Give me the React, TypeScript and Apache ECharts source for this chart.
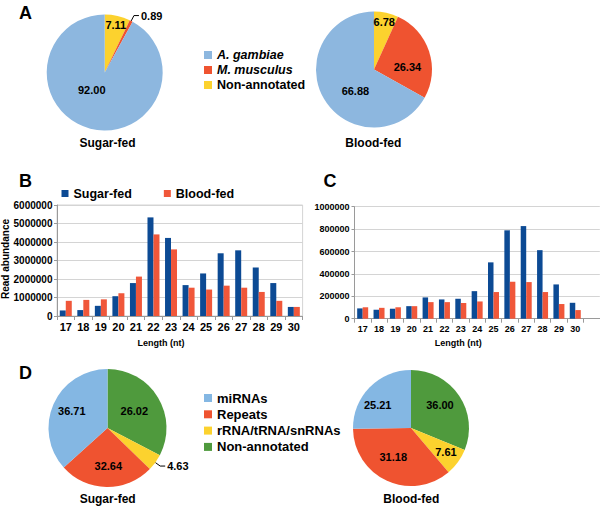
import React, { useEffect, useRef } from 'react';
import * as echarts from 'echarts';

const FONT = '"Liberation Sans", Arial, Helvetica, sans-serif';

// Panel A: species origin of reads (clockwise from 12 o'clock)
const speciesNames = ['Non-annotated', 'M. musculus', 'A. gambiae'];
const aSugarShares = [7.11, 0.89, 92.0];
const aBloodShares = [6.78, 26.34, 66.88];
const speciesLegend = ['A. gambiae', 'M. musculus', 'Non-annotated'];

// Panels B and C: read length distribution
const lengths = ['17', '18', '19', '20', '21', '22', '23', '24', '25', '26', '27', '28', '29', '30'];
const bSugar = [300000, 320000, 550000, 1070000, 1780000, 5330000, 4220000, 1670000, 2300000, 3390000, 3550000, 2620000, 1780000, 490000];
const bBlood = [820000, 870000, 900000, 1230000, 2130000, 4410000, 3600000, 1530000, 1430000, 1640000, 1530000, 1300000, 820000, 490000];
const cSugar = [92000, 80000, 89000, 112000, 190000, 172000, 178000, 246000, 503000, 789000, 827000, 612000, 306000, 142000];
const cBlood = [102000, 97000, 102000, 112000, 148000, 148000, 140000, 154000, 238000, 330000, 327000, 238000, 131000, 77000];

// Panel D: annotation classes (clockwise from 12 o'clock); slice sizes as drawn, printed labels as shown
const rnaNames = ['Non-annotated', 'rRNA/tRNA/snRNAs', 'Repeats', 'miRNAs'];
const dSugarShares = [32.64, 4.63, 26.02, 36.71];
const dSugarPrinted = ['26.02', '4.63', '32.64', '36.71'];
const dBloodShares = [31.18, 7.61, 36.0, 25.21];
const dBloodPrinted = ['36.00', '7.61', '31.18', '25.21'];
const rnaLegend = ['miRNAs', 'Repeats', 'rRNA/tRNA/snRNAs', 'Non-annotated'];

const speciesColors: Record<string, string> = {
  'A. gambiae': '#8DB7DF',
  'M. musculus': '#EF5330',
  'Non-annotated': '#FCD22E',
};
const rnaColors: Record<string, string> = {
  miRNAs: '#84B7E3',
  Repeats: '#EF5330',
  'rRNA/tRNA/snRNAs': '#FCD22E',
  'Non-annotated': '#4F9A3D',
};

type Shift = { dx?: number; dy?: number };

function pieSeries(
  center: number[],
  radius: number,
  names: string[],
  values: number[],
  printed: string[],
  colors: Record<string, string>,
  shifts: Shift[],
  outsideIdx: number
) {
  return {
    type: 'pie',
    center,
    radius,
    startAngle: 90,
    clockwise: true,
    avoidLabelOverlap: false,
    silent: true,
    itemStyle: { borderWidth: 0 },
    data: names.map((n, i) => {
      const item: any = { value: values[i], name: n, itemStyle: { color: colors[n] } };
      if (i === outsideIdx) {
        item.label = { position: 'outside', distanceToLabelLine: 2, alignTo: 'none' };
        item.labelLine = { show: true, length: 6, length2: 5, smooth: false, lineStyle: { color: '#000', width: 1 } };
      }
      return item;
    }),
    label: {
      show: true,
      position: 'inside',
      formatter: (p: any) => printed[p.dataIndex],
      color: '#000',
      fontSize: 11,
      fontWeight: 'bold',
      fontFamily: FONT,
    },
    labelLine: { show: false },
    labelLayout: (p: any) => shifts[p.dataIndex] || {},
  };
}

function txt(text: string, x: number, y: number, size: number, extra: any = {}) {
  return {
    type: 'text',
    x,
    y,
    silent: true,
    ...extra,
    style: {
      text,
      fill: '#000',
      fontSize: size,
      fontWeight: 'bold',
      fontFamily: FONT,
      textAlign: 'center',
      textVerticalAlign: 'middle',
    },
  };
}

export default function App() {
  const ref = useRef<HTMLDivElement>(null);

  useEffect(() => {
    if (!ref.current) return;
    const chart = echarts.init(ref.current, undefined, { renderer: 'svg' });

    const axisGray = '#9A9A9A';
    const gridGray = '#D4D4D4';

    const xAxisCommon = (data: string[], gridIndex: number, fontSize: number, margin: number) => ({
      gridIndex,
      type: 'category',
      data,
      axisLine: { show: true, lineStyle: { color: axisGray, width: 1 } },
      axisTick: { show: true, length: 4, alignWithLabel: false, lineStyle: { color: axisGray } },
      axisLabel: { interval: 0, color: '#000', fontWeight: 'bold', fontSize, margin, fontFamily: FONT },
      splitLine: { show: false },
    });

    const yAxisCommon = (gridIndex: number, max: number, interval: number, fontSize: number, margin: number) => ({
      gridIndex,
      type: 'value',
      min: 0,
      max,
      interval,
      axisLine: { show: true, lineStyle: { color: axisGray, width: 1 } },
      axisTick: { show: true, length: 3, lineStyle: { color: axisGray } },
      axisLabel: {
        color: '#000',
        fontWeight: 'bold',
        fontSize,
        margin,
        fontFamily: FONT,
        formatter: (v: number) => String(v),
      },
      splitLine: { show: true, lineStyle: { color: gridGray, width: 1 } },
    });

    const option: any = {
      animation: false,
      backgroundColor: '#fff',
      textStyle: { fontFamily: FONT },
      legend: [
        {
          data: speciesLegend.map((n) => ({ name: n, itemStyle: { color: speciesColors[n] } })),
          orient: 'vertical',
          left: 199,
          top: 43.5,
          itemWidth: 8,
          itemHeight: 8,
          itemGap: 2,
          icon: 'rect',
          selectedMode: false,
          formatter: (name: string) => (name === 'Non-annotated' ? name : `{i|${name}}`),
          textStyle: {
            color: '#000',
            fontSize: 12.5,
            fontWeight: 'bold',
            fontFamily: FONT,
            rich: { i: { fontStyle: 'italic', fontWeight: 'bold', fontSize: 12.5, fontFamily: FONT, color: '#000' } },
          },
        },
        {
          data: ['Sugar-fed', 'Blood-fed'],
          left: 56.5,
          top: 182,
          itemWidth: 7,
          itemHeight: 7,
          itemGap: 32,
          icon: 'rect',
          selectedMode: false,
          textStyle: { color: '#000', fontSize: 12.5, fontWeight: 'bold', fontFamily: FONT },
        },
        {
          data: rnaLegend.map((n) => ({ name: n, itemStyle: { color: rnaColors[n] } })),
          orient: 'vertical',
          left: 199,
          top: 386.5,
          itemWidth: 8,
          itemHeight: 8,
          itemGap: 3.3,
          icon: 'rect',
          selectedMode: false,
          textStyle: { color: '#000', fontSize: 13, fontWeight: 'bold', fontFamily: FONT },
        },
      ],
      grid: [
        { left: 57, top: 205, width: 245.6, height: 111, show: true, borderColor: gridGray, borderWidth: 1, backgroundColor: 'transparent', containLabel: false },
        { left: 354.5, top: 206.7, width: 245.3, height: 112, containLabel: false },
      ],
      xAxis: [xAxisCommon(lengths, 0, 11, 5), xAxisCommon([...lengths, ''], 1, 9, 6)],
      yAxis: [yAxisCommon(0, 6000000, 1000000, 10, 4.5), yAxisCommon(1, 1000000, 200000, 9, 5)],
      series: [
        pieSeries([104.7, 72.5], 58, speciesNames, aSugarShares, aSugarShares.map((v) => v.toFixed(2)), speciesColors,
          [{ dx: 4, dy: -16 }, {}, { dx: -5, dy: -13 }], 1),
        pieSeries([374, 69.5], 58, speciesNames, aBloodShares, aBloodShares.map((v) => v.toFixed(2)), speciesColors,
          [{ dx: 3.5, dy: -16 }, { dx: 3, dy: 7 }, { dx: 9, dy: 5.5 }], -1),
        pieSeries([107.5, 428], 59, rnaNames, dSugarShares, dSugarPrinted, rnaColors,
          [{ dx: -1, dy: -0.5 }, {}, { dx: 1.4, dy: 6 }, { dx: -6, dy: -4 }], 1),
        pieSeries([411, 428], 58, rnaNames, dBloodShares, dBloodPrinted, rnaColors,
          [{ dx: 2.4, dy: -5 }, { dx: 9, dy: 5 }, { dx: -4.5, dy: 0 }, { dx: -10.5, dy: -0.5 }], -1),
        { type: 'bar', name: 'Sugar-fed', xAxisIndex: 0, yAxisIndex: 0, data: bSugar, barWidth: 6, barGap: '0%', itemStyle: { color: '#0C4A94' }, silent: true },
        { type: 'bar', name: 'Blood-fed', xAxisIndex: 0, yAxisIndex: 0, data: bBlood, barWidth: 6, barGap: '0%', itemStyle: { color: '#F0573A' }, silent: true },
        { type: 'bar', name: 'Sugar-fed', xAxisIndex: 1, yAxisIndex: 1, data: cSugar, barWidth: 5.5, barGap: '0%', itemStyle: { color: '#0C4A94' }, silent: true },
        { type: 'bar', name: 'Blood-fed', xAxisIndex: 1, yAxisIndex: 1, data: cBlood, barWidth: 5.5, barGap: '0%', itemStyle: { color: '#F0573A' }, silent: true },
      ],
      graphic: [
        txt('A', 25.5, 12.5, 18),
        txt('B', 25.5, 181, 18),
        txt('C', 330, 181, 18),
        txt('D', 25.5, 372.5, 18),
        txt('Sugar-fed', 107.5, 143, 12),
        txt('Blood-fed', 373.3, 143.3, 12),
        txt('Sugar-fed', 107.7, 499, 12),
        txt('Blood-fed', 411.3, 499, 12),
        txt('Read abundance', 5.5, 259, 10, { rotation: Math.PI / 2 }),
        txt('Length (nt)', 161, 343, 9),
        txt('Length (nt)', 458.3, 343.3, 9),
      ],
    };

    chart.setOption(option);
    return () => {
      chart.dispose();
    };
  }, []);

  return (
    <div
      ref={ref}
      style={{ position: 'fixed', left: 0, top: 0, width: 600, height: 508, background: '#fff' }}
    />
  );
}
